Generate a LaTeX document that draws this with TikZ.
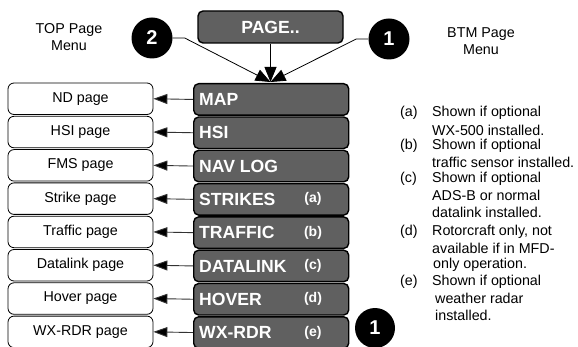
\documentclass[tikz,border=0pt]{standalone}
\usepackage{fontspec}
\setmainfont{Liberation Sans}
\usetikzlibrary{arrows.meta}
\definecolor{boxgray}{RGB}{96,96,96}
\begin{document}
\begin{tikzpicture}[x=1pt,y=-1pt,
  darkbox/.style={draw=black, line width=1.4pt, fill=boxgray, rounded corners=5pt,
    minimum width=155pt, minimum height=31.5pt, inner sep=0pt, anchor=north west},
  darktext/.style={text=white, font=\bfseries\fontsize{17.6}{19}\selectfont, inner sep=0pt, anchor=west},
  opttext/.style={text=white, font=\bfseries\fontsize{14}{15}\selectfont, inner sep=0pt},
  pagebox/.style={draw=black, line width=0.8pt, fill=white, rounded corners=6pt,
    minimum width=145pt, minimum height=31.5pt, inner sep=0pt,
    font=\fontsize{14.3}{15}\selectfont},
  sidearrow/.style={draw=black!80, line width=0.9pt, -{Triangle[length=14pt,width=10pt,fill=black]}},
  toparrow/.style={draw=black, line width=0.8pt, -{Triangle[length=15pt,width=12pt,fill=black]}},
  badge/.style={circle, fill=black, minimum size=41pt, inner sep=0pt, text=white,
    font=\bfseries\fontsize{20}{22}\selectfont},
  plain/.style={inner sep=0pt, font=\fontsize{14.3}{17}\selectfont, align=center},
  legend/.style={inner sep=0pt, anchor=west, font=\fontsize{14.3}{16.5}\selectfont}
]
\useasboundingbox (0,0) rectangle (578,347);

% top
\node[darkbox, minimum width=145pt, minimum height=32pt, anchor=center] (page) at (270.5,27) {};
\node[darktext, anchor=center] (pagetext) at (page.center) {PAGE..};
\node[badge] (c2) at (152,38) {2};
\node[badge] (c1) at (389,39) {1};
\node[plain] (toplbl) at (69,37) {TOP Page\\Menu};
\node[plain] (btmlbl) at (481,41) {BTM Page\\Menu};
\coordinate (tip) at (270.5,82);
\draw[toparrow] (page.south) -- (tip);
\draw[toparrow] (c2.east) -- ++(12,0) -- (tip);
\draw[toparrow] (c1.west) -- ++(-12,0) -- (tip);

% rows
\foreach \i/\lab/\pg/\opt in {0/MAP/ND page/,1/HSI/HSI page/,2/NAV LOG/FMS page/,
    3/STRIKES/Strike page/(a),4/TRAFFIC/Traffic page/(b),5/DATALINK/Datalink page/(c),
    6/HOVER/Hover page/(d),7/WX-RDR/WX-RDR page/(e)}{
  \pgfmathsetmacro{\top}{83+33.3*\i}
  \node[darkbox] (m\i) at (193,\top) {};
  \node[darktext] (mt\i) at ([xshift=6pt]m\i.west) {\lab};
  \node[opttext] (mo\i) at ([xshift=120pt]m\i.west) {\opt};
  \node[pagebox] (p\i) at (80.5,\top+15.75) {\pg};
  \draw[sidearrow] (m\i.west) -- (p\i.east);
}

\node[badge, minimum size=40pt] (c1b) at (375,328) {1};

% legend
\node[legend] (la) at (400,113) {(a)};
\node[legend] (la1) at (432,113) {Shown if optional};
\node[legend] (la2) at (432,130) {WX-500 installed.};
\node[legend] (lb) at (400,146) {(b)};
\node[legend] (lb1) at (432,146) {Shown if optional};
\node[legend] (lb2) at (432,162) {traffic sensor installed.};
\node[legend] (lc) at (400,179) {(c)};
\node[legend] (lc1) at (432,179) {Shown if optional};
\node[legend] (lc2) at (432,195) {ADS-B or normal};
\node[legend] (lc3) at (432,212) {datalink installed.};
\node[legend] (ld) at (400,232) {(d)};
\node[legend] (ld1) at (432,232) {Rotorcraft only, not};
\node[legend] (ld2) at (432,248) {available if in MFD-};
\node[legend] (ld3) at (433,265) {only operation.};
\node[legend] (le) at (400,282) {(e)};
\node[legend] (le1) at (432,282) {Shown if optional};
\node[legend] (le2) at (435,298) {weather radar};
\node[legend] (le3) at (435,315) {installed.};
\end{tikzpicture}
\end{document}
